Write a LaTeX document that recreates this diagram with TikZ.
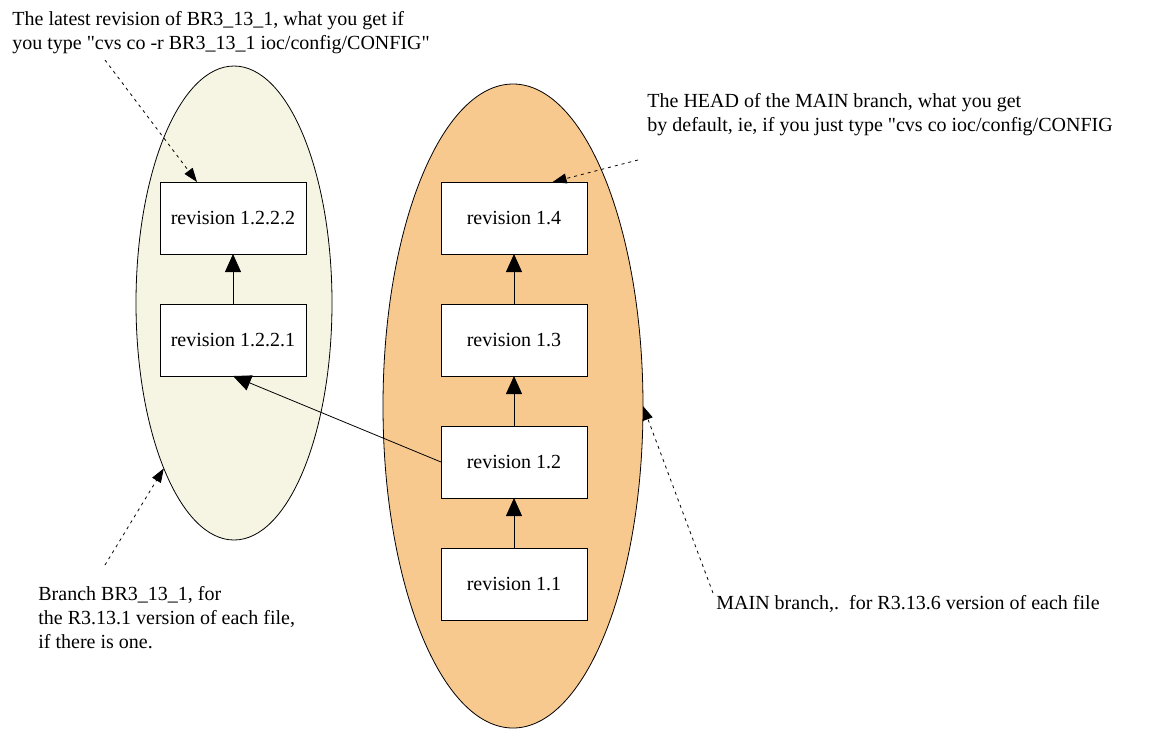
\documentclass[tikz,border=0pt]{standalone}
\usepackage{fontspec}
\setmainfont{Liberation Serif}
\usetikzlibrary{shapes.geometric, arrows.meta, positioning}
\definecolor{branchbeige}{RGB}{246,245,228}
\definecolor{mainorange}{RGB}{247,201,143}
\tikzset{
	revnode/.style = {shape=rectangle, draw, fill=white,
		minimum width=73pt, minimum height=36pt,
		inner sep=0pt, outer sep=0pt},
	branch/.style  = {shape=ellipse, draw, inner sep=0pt, outer sep=0pt},
	note/.style    = {align=left, inner sep=0pt, anchor=north west},
	succ/.style    = {draw, -{Triangle[length=9pt, width=8pt]}},
	pointer/.style = {draw, dash pattern=on 1.5pt off 2pt,
		-{Triangle[length=7pt, width=5pt]}}
}
\begin{document}
\begin{tikzpicture}
	[
	x = 0.5pt, y = -0.5pt,
	every node/.style = {font=\fontsize{10}{12}\selectfont}
	]
	\useasboundingbox (0,0) rectangle (1151,730);
	% the two branches
	\node [branch, fill=branchbeige, minimum width=98pt, minimum height=237pt] (br) at (234,303) {};
	\node [branch, fill=mainorange, minimum width=130pt, minimum height=322pt] (main) at (513,406) {};
	% MAIN revisions
	\node [revnode] (r11) at (514,584) {revision 1.1};
	\node [revnode, above=25pt of r11] (r12) {revision 1.2};
	\node [revnode, above=25pt of r12] (r13) {revision 1.3};
	\node [revnode, above=25pt of r13] (r14) {revision 1.4};
	% branch revisions
	\node [revnode] (r1221) at (233,340) {revision 1.2.2.1};
	\node [revnode, above=25pt of r1221] (r1222) {revision 1.2.2.2};
	\draw [succ] (r11) -- (r12);
	\draw [succ] (r12) -- (r13);
	\draw [succ] (r13) -- (r14);
	\draw [succ] (r1221) -- (r1222);
	\draw [succ] (r12.west) -- (r1221.south);
	% notes
	\node [note] (nlatest) at (12,11) {The latest revision of BR3\_13\_1, what you get if\\
		you type \textquotedbl cvs co -r BR3\_13\_1 ioc/config/CONFIG\textquotedbl};
	\node [note] (nhead) at (647,93) {The HEAD of the MAIN branch, what you get\\
		by default, ie, if you just type \textquotedbl cvs co ioc/config/CONFIG};
	\node [note] (nbranch) at (38,586) {Branch BR3\_13\_1, for\\
		the R3.13.1 version of each file,\\
		if there is one.};
	\node [note] (nmain) at (716,595) {MAIN branch,.\ \ for R3.13.6 version of each file};
	\coordinate (plattest) at (105,60);
	\coordinate (phead) at (638,160);
	\coordinate (pbranch) at (105,565);
	\coordinate (pmain) at (713,593);
	\draw [pointer] (plattest) -- (r1222.135);
	\draw [pointer] (phead) -- (r14.43);
	\draw [pointer] (pbranch) -- (br.247);
	\draw [pointer] (pmain) -- (main.east);
\end{tikzpicture}
\end{document}
